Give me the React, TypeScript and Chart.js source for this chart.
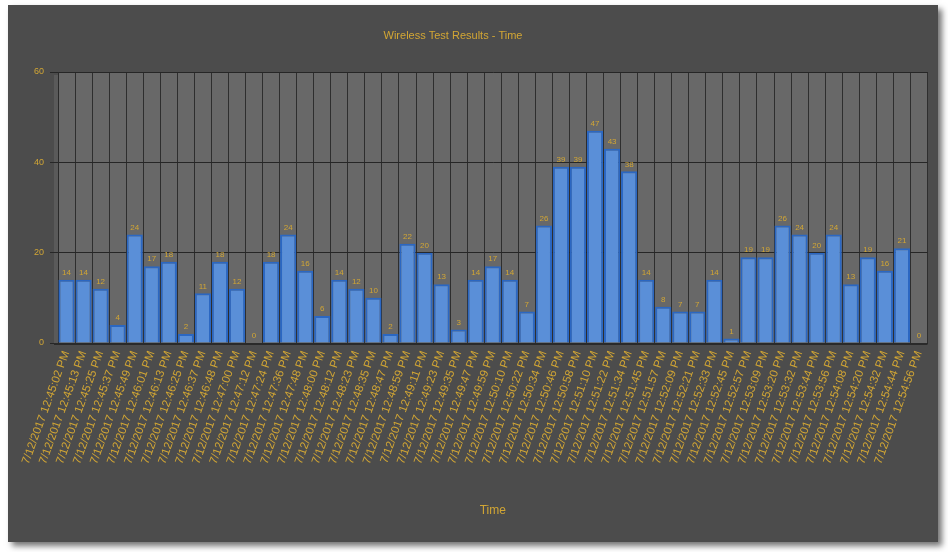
import React, { useEffect, useRef } from "react";
import { Chart, registerables } from "chart.js";

Chart.register(...registerables);

const chartTitle = "Wireless Test Results - Time";
const axisTitle = "Time";
const datePrefix = "7/12/2017";
const times = [
  "12:45:02", "12:45:13", "12:45:25", "12:45:37", "12:45:49",
  "12:46:01", "12:46:13", "12:46:25", "12:46:37", "12:46:48",
  "12:47:00", "12:47:12", "12:47:24", "12:47:36", "12:47:48",
  "12:48:00", "12:48:12", "12:48:23", "12:48:35", "12:48:47", "12:48:59",
  "12:49:11", "12:49:23", "12:49:35", "12:49:47", "12:49:59",
  "12:50:10", "12:50:22", "12:50:34", "12:50:46", "12:50:58",
  "12:51:10", "12:51:22", "12:51:34", "12:51:45", "12:51:57",
  "12:52:09", "12:52:21", "12:52:33", "12:52:45", "12:52:57",
  "12:53:09", "12:53:20", "12:53:32", "12:53:44", "12:53:56",
  "12:54:08", "12:54:20", "12:54:32", "12:54:44", "12:54:56",
];
const values = [
  14, 14, 12, 4, 24, 17, 18, 2, 11, 18, 12, 0,
  18, 24, 16, 6, 14, 12, 10, 2, 22, 20, 13, 3, 14, 17, 14, 7,
  26, 39, 39, 47, 43, 38, 14, 8, 7, 7, 14, 1,
  19, 19, 26, 24, 20, 24, 13, 19, 16, 21, 0,
];
const yTicks = [0, 20, 40, 60];

const GOLD = "#d2a634";
const NARROW = "'Liberation Sans Narrow', 'Liberation Sans', Arial, sans-serif";
const SANS = "'Liberation Sans', Arial, sans-serif";

export default function App() {
  const ref = useRef<HTMLCanvasElement | null>(null);

  useEffect(() => {
    if (!ref.current) return;
    const labels = times.map((t) => `${datePrefix} ${t} PM`);

    const bgPlugin = {
      id: "plotBg",
      beforeDraw(chart: any) {
        const { ctx, chartArea: a } = chart;
        ctx.save();
        ctx.fillStyle = "#686868";
        ctx.fillRect(a.left, a.top, a.right - a.left, a.bottom - a.top);
        ctx.fillStyle = "#5a5a5a";
        ctx.fillRect(a.left - 4, a.top + 3, 4, a.bottom - a.top - 3);
        ctx.restore();
      },
      afterDraw(chart: any) {
        const { ctx, chartArea: a } = chart;
        ctx.save();
        ctx.fillStyle = "#2a2a2a";
        ctx.fillRect(a.left - 4, a.bottom, a.right - a.left + 4, 2);
        ctx.restore();
      },
    };

    const labelPlugin = {
      id: "valueLabels",
      afterDatasetsDraw(chart: any) {
        const { ctx } = chart;
        const meta = chart.getDatasetMeta(0);
        ctx.save();
        ctx.fillStyle = GOLD;
        ctx.font = `8px ${NARROW}`;
        ctx.textAlign = "center";
        ctx.textBaseline = "bottom";
        meta.data.forEach((bar: any, i: number) => {
          ctx.fillText(String(values[i]), bar.x, bar.y - 3);
        });
        ctx.restore();
      },
    };

    const titlePlugin = {
      id: "topTitle",
      afterDraw(chart: any) {
        const { ctx } = chart;
        ctx.save();
        ctx.fillStyle = GOLD;
        ctx.font = `11px ${NARROW}`;
        ctx.textAlign = "center";
        ctx.textBaseline = "middle";
        ctx.fillText(chartTitle, chart.width / 2 - 20, 31);
        ctx.restore();
      },
    };

    const chart = new Chart(ref.current, {
      type: "bar",
      data: {
        labels,
        datasets: [
          {
            data: values,
            backgroundColor: "#5a8fd8",
            borderColor: "#2b67c2",
            borderWidth: 2,
            barPercentage: 0.95,
            categoryPercentage: 1,
          },
        ],
      },
      options: {
        animation: false,
        responsive: false,
        maintainAspectRatio: false,
        layout: { padding: { top: 67, bottom: 20, right: 8, left: 0 } },
        plugins: {
          legend: { display: false },
          tooltip: { enabled: false },
          title: { display: false },
        },
        scales: {
          x: {
            offset: true,
            afterFit(scale: any) {
              scale.height = 179;
            },
            grid: {
              offset: true,
              color: "#2e2e2e",
              lineWidth: 1,
              drawTicks: false,
            },
            border: { display: true, color: "#2a2a2a" },
            ticks: {
              autoSkip: false,
              minRotation: 70,
              maxRotation: 70,
              padding: 6,
              color: GOLD,
              font: { size: 11.5, family: SANS },
            },
            title: {
              display: true,
              text: axisTitle,
              color: GOLD,
              font: { size: 12, family: NARROW },
              padding: { top: 4, bottom: 4 },
            },
          },
          y: {
            min: 0,
            max: 60,
            afterFit(scale: any) {
              scale.width = 50;
            },
            afterBuildTicks(scale: any) {
              scale.ticks = yTicks.map((v) => ({ value: v }));
            },
            grid: {
              color: "#262626",
              lineWidth: 1,
              tickLength: 8,
            },
            border: { display: true, color: "#2a2a2a" },
            ticks: {
              padding: 6,
              color: GOLD,
              font: { size: 9, family: NARROW },
            },
          },
        },
      },
      plugins: [bgPlugin, labelPlugin, titlePlugin],
    });
    return () => chart.destroy();
  }, []);

  return (
    <div
      style={{
        position: "absolute",
        left: 8,
        top: 5,
        width: 930,
        height: 537,
        background: "#4c4c4c",
        boxShadow: "4px 4px 6px rgba(0,0,0,0.55)",
      }}
    >
      <canvas ref={ref} width={930} height={537} style={{ display: "block" }} />
    </div>
  );
}
